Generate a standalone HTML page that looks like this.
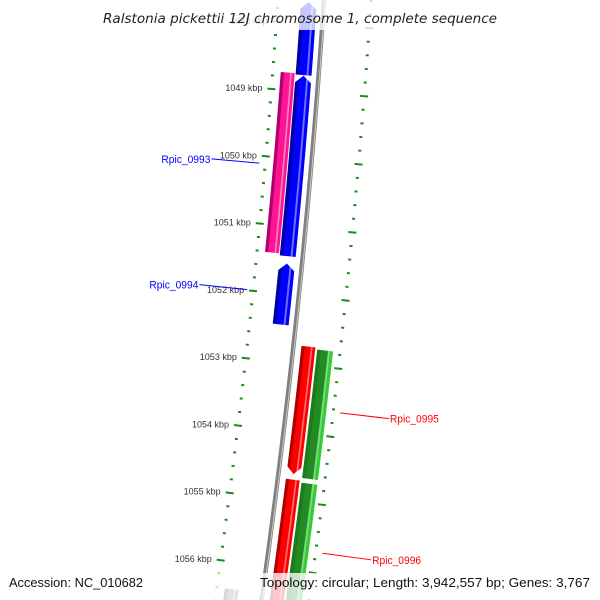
<!DOCTYPE html>
<html><head><meta charset="utf-8"><style>
html,body{margin:0;padding:0;background:#fff;overflow:hidden;width:600px;height:600px;}
svg{display:block;font-family:"Liberation Sans","DejaVu Sans",sans-serif;}
</style></head><body>
<svg id="map" width="600" height="600" viewBox="0 0 600 600" xmlns="http://www.w3.org/2000/svg" overflow="hidden">
<defs id="defs"></defs>
<g id="ticks"></g>
<g id="backbone"></g>
<g id="genes"></g>
<g id="labels"></g>
<rect x="0" y="0" width="600" height="30" fill="#fff" opacity="0.78"/>
<text x="103" y="23" textLength="394" lengthAdjust="spacingAndGlyphs" font-family="DejaVu Sans, Liberation Sans, sans-serif" font-size="13" font-style="italic" fill="#222">Ralstonia pickettii 12J chromosome 1, complete sequence</text>
<rect x="0" y="573" width="600" height="27" fill="#fff" opacity="0.78"/>
<text x="9" y="587" textLength="134" lengthAdjust="spacingAndGlyphs" font-size="13" fill="#111">Accession: NC_010682</text>
<text x="260" y="587" textLength="330" lengthAdjust="spacingAndGlyphs" font-size="13" fill="#111">Topology: circular; Length: 3,942,557 bp; Genes: 3,767</text>
</svg>
<script>
// data
const geneNames = ["g-top","g2","Rpic_0994","pink1","Rpic_0995","Rpic_0996","green1","green2","grey1"];
const geneStarts = [1047.68,1048.77,1051.55,1048.74,1052.73,1054.69,1052.76,1054.72,1056.40];
const geneEnds   = [1048.76,1051.44,1052.45,1051.41,1054.61,1056.60,1054.65,1056.60,1056.60];
const geneStrand = [-1,-1,-1,0,1,1,0,0,0];
const geneRing   = ["inL","inL","inL","outL","inR","inR","outR","outR","outL"];
const geneColor  = ["blue","blue","blue","pink","red","red","green","green","grey"];
const tickKbp = [1048,1049,1050,1051,1052,1053,1054,1055,1056,1057];
const labelNames = ["Rpic_0993","Rpic_0994","Rpic_0995","Rpic_0996"];
const labelKbp   = [1050.11,1051.99,1053.64,1055.70];

const NS="http://www.w3.org/2000/svg";
const rings={inL:[-23,-7],outL:[-38,-24],inR:[8,22],outR:[24,40]};
const pal={
 blue:["#0000a8","#0000ff","#7070ff","#0000ff"],
 pink:["#b00070","#ff1493","#ff80c0","#ff1493"],
 red:["#b00000","#ff0000","#ff7070","#ff0000"],
 green:["#1e7a1e","#228b22","#80d880","#32cd32"],
 grey:["#505050","#808080","#c0c0c0","#808080"]};
const fr=[0,0.25,0.7,0.82,1];
function tOf(k){return 92.5+(k-1049)*67.7;}
function cx(t){return 324-0.067*t-0.0000617*t*t;}
function pt(t,off){const d=-0.067-2*0.0000617*t;const n=Math.sqrt(1+d*d);return [cx(t)+off/n,t-d*off/n];}
function mk(tag,attrs,parent){const e=document.createElementNS(NS,tag);for(const k in attrs)e.setAttribute(k,attrs[k]);parent.appendChild(e);return e;}
function band(t0,t1,o0,o1){let A=[],B=[];for(let j=0;j<=10;j++){const t=t0+(t1-t0)*j/10;A.push(pt(t,o0));B.push(pt(t,o1));}return A.concat(B.reverse()).map(p=>p.join(',')).join(' ');}

// backbone
const bb=document.getElementById('backbone');
let p1=[],p2=[];
for(let t=-10;t<=610;t+=10){p1.push(pt(t,0).join(','));p2.push(pt(t,1).join(','));}
let b1=mk('polyline',{points:p1.join(' '),fill:'none',stroke:'#808080','stroke-width':4.5},bb);


let b2=mk('polyline',{points:p2.join(' '),fill:'none',stroke:'#c8c8c8','stroke-width':1},bb);



// ticks
const tg=document.getElementById('ticks');
for(let k=1047.6;k<=1057.2;k+=0.2){
  const kk=Math.round(k*10)/10;const major=Math.abs(kk-Math.round(kk))<0.01;
  const t=tOf(kk);
  [-46,47].forEach(o=>{
    const len=major?4:1.5;
    const a=pt(t,o-len),b=pt(t,o+len);
    const l=mk('line',{x1:a[0],y1:a[1],x2:b[0],y2:b[1],stroke:'#1a8a1a','stroke-width':2},tg);
    
    
  });
}
tickKbp.forEach(k=>{
  const p=pt(tOf(k),-55);
  const tx=mk('text',{x:p[0],y:p[1]+3,'text-anchor':'end','font-size':9,fill:'#333'},tg);
  tx.textContent=k+' kbp';
  
  
});

// genes
const gg=document.getElementById('genes');
const defs=document.getElementById('defs');
geneNames.forEach((nm,i)=>{
  const r=rings[geneRing[i]];const t0=tOf(geneStarts[i]),t1=tOf(geneEnds[i]);
  const s=geneStrand[i];const ah=7;
  let L=[],R=[];
  const a0=s<0?t0+ah:t0,a1=s>0?t1-ah:t1;
  for(let j=0;j<=8;j++){const t=a0+(a1-a0)*j/8;L.push(pt(t,r[0]));R.push(pt(t,r[1]));}
  let pts=[];
  if(s<0)pts.push(pt(t0,(r[0]+r[1])/2));
  pts=pts.concat(R);
  if(s>0)pts.push(pt(t1,(r[0]+r[1])/2));
  pts=pts.concat(L.reverse());
  const cp=mk('clipPath',{id:'clip'+i},defs);
  mk('polygon',{points:pts.map(p=>p.join(',')).join(' ')},cp);
  const g=mk('g',{'clip-path':'url(#clip'+i+')'},gg);
  
  
  const w=r[1]-r[0];
  for(let k=0;k<4;k++){
    const st=mk('polygon',{points:band(t0-1,t1+1,r[0]+w*fr[k]-0.3,r[0]+w*fr[k+1]+0.3),fill:pal[geneColor[i]][k]},g);
    
    
  }
});

// labels
const lg=document.getElementById('labels');
const labelSide=[-1,-1,1,1];
const labelCol=["#0000ff","#0000ff","#ff0000","#ff0000"];
labelNames.forEach((nm,i)=>{
  const t=tOf(labelKbp[i]);const side=labelSide[i];
  const a=pt(t,side<0?-52:54);const b=pt(t,side<0?-100:103);
  const ln=mk('line',{x1:a[0],y1:a[1],x2:b[0],y2:b[1],stroke:labelCol[i],'stroke-width':1},lg);
  
  
  const tx=mk('text',{x:side<0?b[0]-50:b[0]+1,y:b[1]+4,textLength:49,lengthAdjust:'spacingAndGlyphs','font-size':11,fill:labelCol[i]},lg);
  tx.textContent=nm;
  
  
});
</script>
</body></html>
